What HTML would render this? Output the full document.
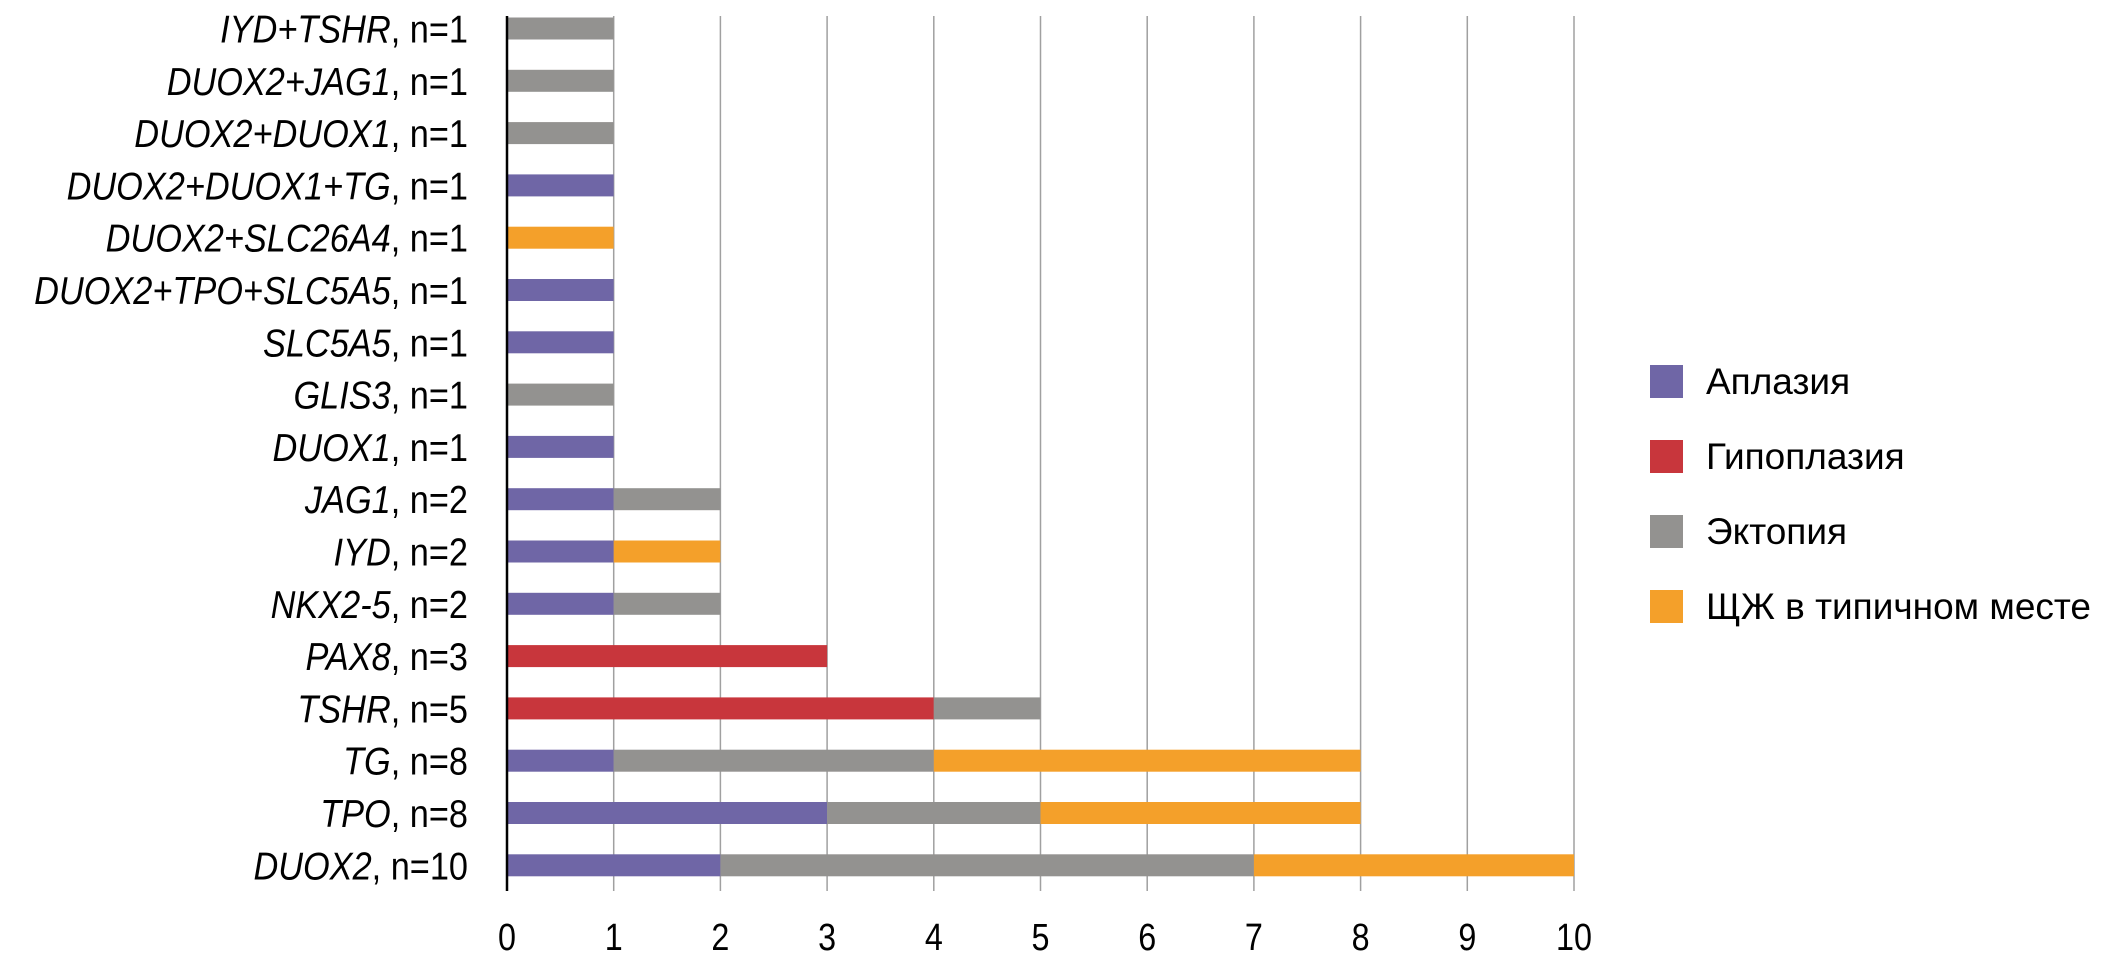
<!DOCTYPE html>
<html><head><meta charset="utf-8"><style>
html,body{margin:0;padding:0;background:#fff;}
svg{display:block;font-family:"Liberation Sans",sans-serif;}
</style></head><body>
<svg width="2126" height="958" viewBox="0 0 2126 958" xmlns="http://www.w3.org/2000/svg">
<g stroke="#a0a0a0" stroke-width="1.5">
<line x1="613.7" y1="16" x2="613.7" y2="891"/>
<line x1="720.4" y1="16" x2="720.4" y2="891"/>
<line x1="827.1" y1="16" x2="827.1" y2="891"/>
<line x1="933.8" y1="16" x2="933.8" y2="891"/>
<line x1="1040.5" y1="16" x2="1040.5" y2="891"/>
<line x1="1147.2" y1="16" x2="1147.2" y2="891"/>
<line x1="1253.9" y1="16" x2="1253.9" y2="891"/>
<line x1="1360.6" y1="16" x2="1360.6" y2="891"/>
<line x1="1467.3" y1="16" x2="1467.3" y2="891"/>
<line x1="1574" y1="16" x2="1574" y2="891"/>
</g>
<g id="bars"></g>
<line x1="507" y1="16" x2="507" y2="891" stroke="#000" stroke-width="2.5"/>
<g font-size="38" text-anchor="middle" fill="#000">
<text transform="translate(507,950) scale(0.85,1)">0</text>
<text transform="translate(613.7,950) scale(0.85,1)">1</text>
<text transform="translate(720.4,950) scale(0.85,1)">2</text>
<text transform="translate(827.1,950) scale(0.85,1)">3</text>
<text transform="translate(933.8,950) scale(0.85,1)">4</text>
<text transform="translate(1040.5,950) scale(0.85,1)">5</text>
<text transform="translate(1147.2,950) scale(0.85,1)">6</text>
<text transform="translate(1253.9,950) scale(0.85,1)">7</text>
<text transform="translate(1360.6,950) scale(0.85,1)">8</text>
<text transform="translate(1467.3,950) scale(0.85,1)">9</text>
<text transform="translate(1574,950) scale(0.85,1)">10</text>
</g>
<g id="labels" font-size="39" text-anchor="end" fill="#000"></g>
<g font-size="37" fill="#000">
<rect x="1650" y="365" width="33" height="33" fill="#6f66a6"/><text x="1706" y="394">Аплазия</text>
<rect x="1650" y="440" width="33" height="33" fill="#c8363c"/><text x="1706" y="469">Гипоплазия</text>
<rect x="1650" y="515" width="33" height="33" fill="#939290"/><text x="1706" y="544">Эктопия</text>
<rect x="1650" y="590" width="33" height="33" fill="#f4a02a"/><text x="1706" y="619">ЩЖ в типичном месте</text>
</g>
<script>
var C={A:"#6f66a6",R:"#c8363c",G:"#939290",O:"#f4a02a"};
var rows=[["IYD+TSHR","n=1","G1"],["DUOX2+JAG1","n=1","G1"],["DUOX2+DUOX1","n=1","G1"],["DUOX2+DUOX1+TG","n=1","A1"],["DUOX2+SLC26A4","n=1","O1"],["DUOX2+TPO+SLC5A5","n=1","A1"],["SLC5A5","n=1","A1"],["GLIS3","n=1","G1"],["DUOX1","n=1","A1"],["JAG1","n=2","A1 G1"],["IYD","n=2","A1 O1"],["NKX2-5","n=2","A1 G1"],["PAX8","n=3","R3"],["TSHR","n=5","R4 G1"],["TG","n=8","A1 G3 O4"],["TPO","n=8","A3 G2 O3"],["DUOX2","n=10","A2 G5 O3"]];
var ns="http://www.w3.org/2000/svg",b=document.getElementById("bars"),l=document.getElementById("labels");
rows.forEach(function(r,i){var cy=28.5+i*52.3,x=0;
r[2].split(" ").forEach(function(s){var v=+s.slice(1);var e=document.createElementNS(ns,"rect");
e.setAttribute("x",507+x*106.7);e.setAttribute("y",cy-11);e.setAttribute("width",v*106.7);e.setAttribute("height",22);e.setAttribute("fill",C[s[0]]);b.appendChild(e);x+=v;});
var t=document.createElementNS(ns,"text");t.setAttribute("transform","translate(468,"+(cy+14)+") scale(0.88,1)");
var it=document.createElementNS(ns,"tspan");it.setAttribute("font-style","italic");it.textContent=r[0];t.appendChild(it);
t.appendChild(document.createTextNode(", "+r[1]));l.appendChild(t);});
</script>
</svg>
</body></html>
